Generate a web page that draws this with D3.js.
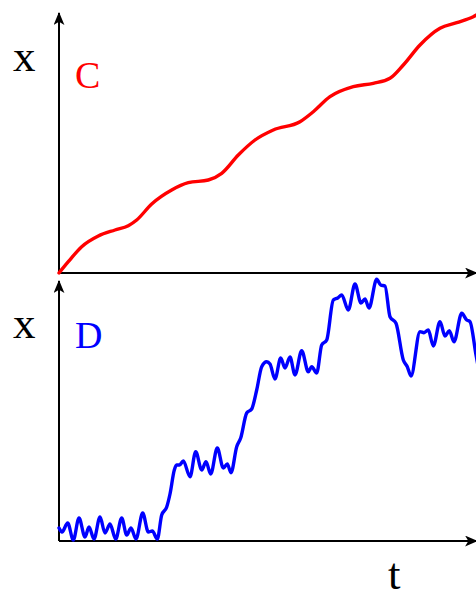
<!DOCTYPE html>
<html>
<head>
<meta charset="utf-8">
<script src="https://cdn.jsdelivr.net/npm/d3@7"></script>
<style>
    html, body { margin: 0; padding: 0; background: #fff; overflow: hidden; }
    svg { display: block; }
    text { font-family: "Liberation Serif", "DejaVu Serif", serif; }
</style>
</head>
<body>
<svg id="chart" width="476" height="591"></svg>
<script>
// values, t and x in the same units for both panels
var redT = [0, 9.3, 22.7, 39.3, 56, 69.3, 77.7, 92.7, 112.7, 129.3, 149.3, 162.7, 179.3, 196,
    214.3, 241, 254.3, 271, 294.3, 314.3, 331, 344.3, 361, 381, 397.7, 414.3, 421];
var redX = [0, 11.3, 26.3, 37, 43, 47.3, 53, 69, 83, 90.3, 93, 99.7, 118, 133,
    143, 151.3, 161.3, 176.3, 186.3, 189.7, 194.7, 208, 228, 244.7, 250.3, 256.3, 260];

var blueT = [0, 3, 8.7, 14.3, 20, 26, 30, 35, 41, 46, 51, 56.7, 62.7, 67.7, 72, 77, 83.7, 89.3,
    93.3, 98.3, 102.7, 107.7, 111, 115.3, 117.5, 120.5, 124.3, 131, 136.7, 142.7, 147, 151.7,
    158.3, 164.3, 168.3, 172, 177.7, 181.7, 187.7, 192.7, 197.7, 202.7, 207.7, 211, 216, 221.7,
    226, 231, 236, 242.7, 249.3, 252.7, 257.7, 262.7, 267.7, 274.3, 278.7, 282.7, 289.3, 296,
    302, 306, 310, 317.7, 321.7, 326, 331, 337, 344.3, 348.3, 352, 361, 365, 369.3, 374.3, 381,
    386, 390.3, 395, 402.7, 407.7, 411, 417, 420];
var blueX = [13, 9, 18, 1, 23, 4, 14, 2, 24, 8, 17, 2, 23, 6, 13, 2, 28, 9,
    10, 2, 26, 34, 47, 71, 76, 76, 80, 64.3, 89.3, 71, 79.3, 67,
    93, 73, 77, 68.3, 94.3, 103, 128, 132, 151, 174.3, 179.3, 177, 162, 183,
    173, 184, 166, 190.3, 169.3, 174.3, 168, 196, 201, 241, 243, 246, 231, 257,
    238, 242, 233, 261.7, 256, 255, 224.3, 217.7, 181, 174.3, 165, 209.3, 208.3, 211, 195, 219.3,
    205, 210.3, 199.3, 227.7, 221, 219.3, 186, 170];

var panels = [
    {label: "C", color: "#ff0000", t: redT, x: redX, axisY: 273, labelY: 88, xLabelY: 71},
    {label: "D", color: "#0000ff", t: blueT, x: blueX, axisY: 541, labelY: 348, xLabelY: 338}
];

var svg = d3.select("#chart");
var originX = 59,
    panelHeight = 260,
    axisEnd = 477;

// stealth-like arrow head
svg.append("defs").append("marker")
    .attr("id", "arrow")
    .attr("viewBox", "0 0 12 10")
    .attr("refX", 11)
    .attr("refY", 5)
    .attr("markerWidth", 13)
    .attr("markerHeight", 11)
    .attr("markerUnits", "userSpaceOnUse")
    .attr("orient", "auto")
    .append("path")
    .attr("d", "M0,0 L12,5 L0,10 L3,5 Z")
    .attr("fill", "#000");

var xScale = d3.scaleLinear().domain([0, 417]).range([originX, originX + 417]);

panels.forEach(function (p) {
    var yScale = d3.scaleLinear().domain([0, panelHeight]).range([p.axisY, p.axisY - panelHeight]);
    var g = svg.append("g");

    // axes
    g.append("line")
        .attr("x1", originX).attr("y1", p.axisY)
        .attr("x2", originX).attr("y2", p.axisY - panelHeight)
        .attr("stroke", "#000").attr("stroke-width", 2)
        .attr("marker-end", "url(#arrow)");
    g.append("line")
        .attr("x1", originX).attr("y1", p.axisY)
        .attr("x2", axisEnd).attr("y2", p.axisY)
        .attr("stroke", "#000").attr("stroke-width", 2)
        .attr("marker-end", "url(#arrow)");

    var pts = p.t.map(function (t, i) { return [t, p.x[i]]; });
    var line = d3.line()
        .x(function (d) { return xScale(d[0]); })
        .y(function (d) { return yScale(d[1]); })
        .curve(d3.curveMonotoneX);

    g.append("path")
        .datum(pts)
        .attr("d", line)
        .attr("fill", "none")
        .attr("stroke", p.color)
        .attr("stroke-width", 3.4)
        .attr("stroke-linejoin", "round")
        .attr("stroke-linecap", "round");

    g.append("text")
        .attr("x", 13).attr("y", p.xLabelY)
        .attr("font-size", 45)
        .text("x");
    g.append("text")
        .attr("x", 75).attr("y", p.labelY)
        .attr("font-size", 38)
        .attr("fill", p.color)
        .text(p.label);
});

svg.append("text")
    .attr("x", 388).attr("y", 589)
    .attr("font-size", 45)
    .text("t");
</script>
</body>
</html>
